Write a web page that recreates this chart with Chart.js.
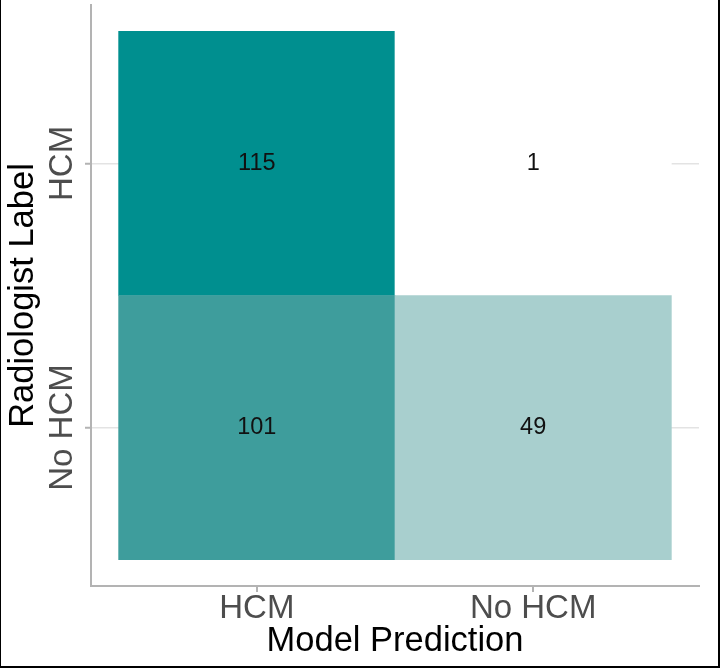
<!DOCTYPE html>
<html>
<head>
<meta charset="utf-8">
<script src="https://cdn.jsdelivr.net/npm/chart.js@4.4.0/dist/chart.umd.min.js"></script>
<style>
  html, body { margin: 0; padding: 0; background: #fff; }
</style>
</head>
<body>
<canvas id="cm" width="720" height="668"></canvas>
<script>
// confusion matrix data
const predCats = ['HCM', 'No HCM'];     // x axis, model prediction
const labelCats = ['No HCM', 'HCM'];    // y axis, radiologist label (bottom to top)
const counts = [
  [101, 49],  // radiologist: No HCM
  [115, 1]    // radiologist: HCM
];

const lowColor = '#ffffff';
const highColor = '#008f8f';
const font = "'Liberation Sans', Arial, sans-serif";

// gradient fill interpolated in Lab space (like ggplot)
function toLab(hex) {
  const c = [1, 3, 5].map(i => parseInt(hex.substr(i, 2), 16) / 255)
    .map(v => v <= 0.04045 ? v / 12.92 : Math.pow((v + 0.055) / 1.055, 2.4));
  const x = (c[0] * 0.4124 + c[1] * 0.3576 + c[2] * 0.1805) / 0.95047;
  const y = c[0] * 0.2126 + c[1] * 0.7152 + c[2] * 0.0722;
  const z = (c[0] * 0.0193 + c[1] * 0.1192 + c[2] * 0.9505) / 1.08883;
  const f = t => t > 0.008856 ? Math.cbrt(t) : 7.787 * t + 16 / 116;
  return [116 * f(y) - 16, 500 * (f(x) - f(y)), 200 * (f(y) - f(z))];
}
function fromLab(L, a, b) {
  const fy = (L + 16) / 116, fx = fy + a / 500, fz = fy - b / 200;
  const inv = t => t * t * t > 0.008856 ? t * t * t : (t - 16 / 116) / 7.787;
  const x = inv(fx) * 0.95047, y = inv(fy), z = inv(fz) * 1.08883;
  const lin = [
    x * 3.2406 - y * 1.5372 - z * 0.4986,
    -x * 0.9689 + y * 1.8758 + z * 0.0415,
    x * 0.0557 - y * 0.2040 + z * 1.0570
  ];
  const s = lin.map(v => {
    v = v <= 0.0031308 ? 12.92 * v : 1.055 * Math.pow(v, 1 / 2.4) - 0.055;
    return Math.round(Math.max(0, Math.min(1, v)) * 255);
  });
  return `rgb(${s[0]},${s[1]},${s[2]})`;
}
const allCounts = counts.flat();
const cMin = Math.min(...allCounts), cMax = Math.max(...allCounts);
const lo = toLab(lowColor), hi = toLab(highColor);
function fillFor(v) {
  const t = (v - cMin) / (cMax - cMin);
  return fromLab(lo[0] + (hi[0] - lo[0]) * t, lo[1] + (hi[1] - lo[1]) * t, lo[2] + (hi[2] - lo[2]) * t);
}

// one stacked dataset per radiologist row, each cell one unit tall
const datasets = labelCats.map((lab, r) => ({
  label: lab,
  data: predCats.map((p, c) => ({ x: c + 0.5, y: 1 })),
  backgroundColor: counts[r].map(fillFor),
  borderWidth: 0,
  barPercentage: 1,
  categoryPercentage: 1
}));

const cellLabels = {
  id: 'cellLabels',
  afterDatasetsDraw(chart) {
    const ctx = chart.ctx;
    ctx.save();
    ctx.font = '23.5px ' + font;
    ctx.fillStyle = '#111';
    ctx.textAlign = 'center';
    ctx.textBaseline = 'middle';
    chart.data.datasets.forEach((ds, r) => {
      chart.getDatasetMeta(r).data.forEach((bar, c) => {
        ctx.fillText(String(counts[r][c]), bar.x, (bar.y + bar.base) / 2);
      });
    });
    ctx.restore();
  }
};

const frame = {
  id: 'frame',
  afterDraw(chart) {
    const ctx = chart.ctx;
    ctx.save();
    ctx.fillStyle = '#000';
    ctx.fillRect(0, 0, 1, 668);
    ctx.fillRect(718, 0, 2, 668);
    ctx.fillRect(0, 666, 720, 2);
    ctx.restore();
  }
};

new Chart(document.getElementById('cm'), {
  type: 'bar',
  data: { datasets: datasets },
  options: {
    responsive: false,
    animation: false,
    layout: { padding: { top: 5, right: 21, left: 0, bottom: 0 } },
    plugins: { legend: { display: false }, tooltip: { enabled: false } },
    scales: {
      x: {
        type: 'linear',
        stacked: true,
        offset: false,
        min: -0.1,
        max: 2.1,
        afterBuildTicks: s => { s.ticks = predCats.map((p, i) => ({ value: i + 0.5 })); },
        afterFit: s => { s.height = 82; },
        ticks: {
          callback: (v, i) => predCats[i],
          autoSkip: false,
          maxRotation: 0,
          padding: -3,
          color: '#4d4d4d',
          font: { family: font, size: 33 }
        },
        grid: { offset: false, drawOnChartArea: false, color: '#b3b3b3', tickLength: 6, lineWidth: 2 },
        border: { color: '#b3b3b3', width: 2 },
        title: {
          display: true,
          text: 'Model Prediction',
          color: '#000',
          font: { family: font, size: 34.5 },
          padding: { top: 0, bottom: 6 }
        }
      },
      y: {
        type: 'linear',
        stacked: true,
        min: -0.1,
        max: 2.1,
        afterBuildTicks: s => { s.ticks = labelCats.map((l, i) => ({ value: i + 0.5 })); },
        afterFit: s => { s.width = 91; },
        ticks: {
          callback: (v, i) => labelCats[i],
          autoSkip: false,
          minRotation: 90,
          maxRotation: 90,
          crossAlign: 'center',
          padding: -41,
          color: '#4d4d4d',
          font: { family: font, size: 33 }
        },
        grid: { color: '#e3e3e3', lineWidth: 1.5, tickColor: '#b3b3b3', tickWidth: 2, tickLength: 6 },
        border: { color: '#b3b3b3', width: 2 },
        title: {
          display: true,
          text: 'Radiologist Label',
          color: '#000',
          font: { family: font, size: 34.5 },
          padding: { top: 3, bottom: 0 }
        }
      }
    }
  },
  plugins: [cellLabels, frame]
});
</script>
</body>
</html>
